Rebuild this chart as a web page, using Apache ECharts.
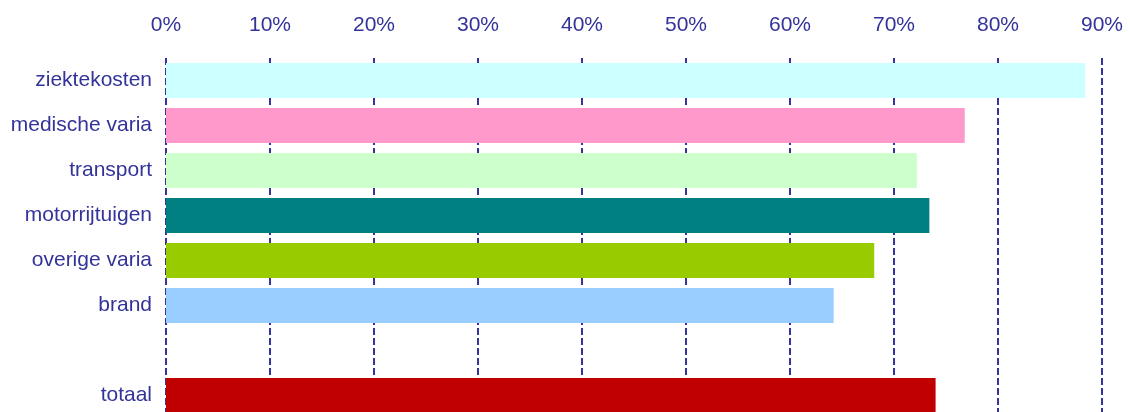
<!DOCTYPE html>
<html>
<head>
<meta charset="utf-8">
<script src="https://cdn.jsdelivr.net/npm/echarts@6/dist/echarts.min.js"></script>
<style>
  html, body { margin: 0; padding: 0; background: #fff; }
  #chart { width: 1130px; height: 412px; }
</style>
</head>
<body>
<div id="chart"></div>
<script>
// Branches, top to bottom; the empty entry leaves a spacer row before the total.
const categories = ['ziektekosten', 'medische varia', 'transport', 'motorrijtuigen', 'overige varia', 'brand', '', 'totaal'];
// Percentage per branch (null for the spacer row).
const values = [88.4, 76.8, 72.2, 73.4, 68.1, 64.2, null, 74.0];
const barColors = ['#CCFFFF', '#FF99CC', '#CCFFCC', '#008080', '#99CC00', '#99CCFF', '#FFFFFF', '#C00000'];
const tickLabels = ['0%', '10%', '20%', '30%', '40%', '50%', '60%', '70%', '80%', '90%'];

const textColor = '#333399';
const chart = echarts.init(document.getElementById('chart'), null, { renderer: 'canvas' });

chart.setOption({
  animation: false,
  // the plot runs a few pixels past the lower edge of the canvas
  grid: { left: 166, right: 28, top: 58, height: 360, containLabel: false, outerBoundsMode: 'none' },
  xAxis: {
    type: 'value',
    position: 'top',
    min: 0,
    max: 90,
    interval: 10,
    axisLine: { show: false },
    axisTick: { show: false },
    axisLabel: {
      color: textColor,
      fontFamily: 'Liberation Sans, Arial, sans-serif',
      fontSize: 21,
      margin: 22,
      formatter: function (v) { return tickLabels[Math.round(v / 10)]; }
    },
    splitLine: {
      show: true,
      lineStyle: { color: '#333399', width: 2, type: [7, 3] }
    }
  },
  yAxis: {
    type: 'category',
    inverse: true,
    data: categories,
    axisLine: { show: false },
    axisTick: { show: false },
    axisLabel: {
      color: textColor,
      fontFamily: 'Liberation Sans, Arial, sans-serif',
      fontSize: 21,
      margin: 14
    }
  },
  series: [{
    type: 'bar',
    barWidth: 35,
    data: values.map(function (v, i) {
      return { value: v, itemStyle: { color: barColors[i] } };
    })
  }]
});
</script>
</body>
</html>
